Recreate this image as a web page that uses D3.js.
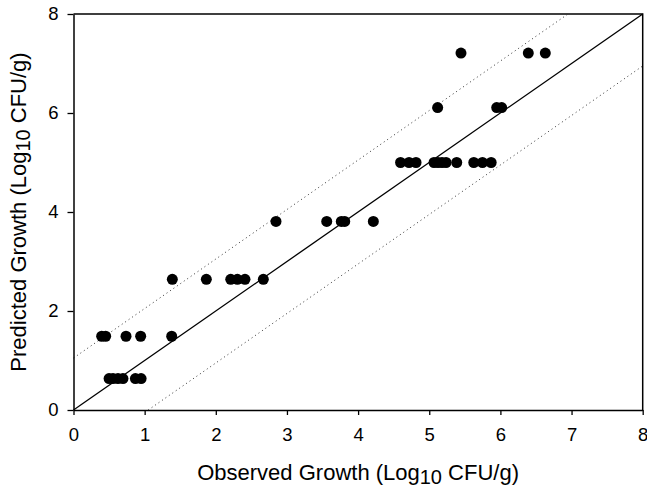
<!DOCTYPE html>
<html>
<head>
<meta charset="utf-8">
<script src="https://cdn.jsdelivr.net/npm/d3@7"></script>
<style>
  html, body { margin: 0; padding: 0; background: #fff; }
  svg { display: block; }
  text { font-family: Arial, "Liberation Sans", sans-serif; fill: #000; }
</style>
</head>
<body>
<svg id="chart" width="647" height="489"></svg>
<script>
// Observed vs predicted growth (Log10 CFU/g)
const observed = [
  0.50, 0.555, 0.625, 0.695, 0.87, 0.95,
  0.396, 0.452, 0.738, 0.944, 1.38,
  1.389, 1.867, 2.21, 2.303, 2.41, 2.668,
  2.846, 3.559, 3.764, 3.812, 4.214,
  4.597, 4.716, 4.814, 5.067, 5.123, 5.179, 5.236, 5.386, 5.626, 5.748, 5.87,
  5.118, 5.948, 6.018,
  5.446, 6.392, 6.631
];
const predicted = [
  0.636, 0.636, 0.636, 0.636, 0.636, 0.636,
  1.49, 1.49, 1.49, 1.49, 1.49,
  2.64, 2.64, 2.64, 2.64, 2.64, 2.64,
  3.81, 3.81, 3.81, 3.81, 3.81,
  5.0, 5.0, 5.0, 5.0, 5.0, 5.0, 5.0, 5.0, 5.0, 5.0, 5.0,
  6.11, 6.11, 6.11,
  7.21, 7.21, 7.21
];
const xTicks = [0, 1, 2, 3, 4, 5, 6, 7, 8];
const yTicks = [0, 2, 4, 6, 8];
const identityLine = [[0, 0], [8, 8]];
const upperBound = [[0, 1.05], [6.95, 8]];
const lowerBound = [[1.05, 0], [8, 6.95]];
const xTitle = ["Observed Growth (Log", "10", " CFU/g)"];
const yTitle = ["Predicted Growth (Log", "10", " CFU/g)"];

const svg = d3.select("#chart");
const W = 647, H = 489;
const m = { left: 73.5, right: 4.3, top: 14, bottom: 79 };
const x = d3.scaleLinear().domain([0, 8]).range([m.left, W - m.right]);
const y = d3.scaleLinear().domain([0, 8]).range([H - m.bottom, m.top]);

const line = d3.line().x(d => x(d[0])).y(d => y(d[1]));

// frame (top and right)
svg.append("path")
  .attr("d", `M${x(0)},${y(8)}H${x(8)}V${y(0)}`)
  .attr("fill", "none").attr("stroke", "#000").attr("stroke-width", 1.5);

// bound lines
[upperBound, lowerBound].forEach(b => {
  svg.append("path").datum(b).attr("d", line)
    .attr("fill", "none").attr("stroke", "#333").attr("stroke-width", 1)
    .attr("stroke-dasharray", "1,3.2");
});
svg.append("path").datum(identityLine).attr("d", line)
  .attr("fill", "none").attr("stroke", "#000").attr("stroke-width", 1.3);

// points
svg.append("g").selectAll("circle")
  .data(observed.map((o, i) => [o, predicted[i]]))
  .join("circle")
  .attr("cx", d => x(d[0])).attr("cy", d => y(d[1]))
  .attr("r", 5.5).attr("fill", "#000");

// axes
const xAxis = svg.append("g").attr("transform", `translate(0,${y(0)})`)
  .call(d3.axisBottom(x).tickValues(xTicks).tickFormat(d3.format("d")).tickSize(5).tickPadding(13).tickSizeOuter(0));
const yAxis = svg.append("g").attr("transform", `translate(${x(0)},0)`)
  .call(d3.axisLeft(y).tickValues(yTicks).tickFormat(d3.format("d")).tickSize(6).tickPadding(9).tickSizeOuter(0));
[xAxis, yAxis].forEach(a => {
  a.select(".domain").attr("stroke", "#000").attr("stroke-width", 1.5);
  a.selectAll(".tick line").attr("stroke", "#000").attr("stroke-width", 1.3);
  a.selectAll("text").attr("font-size", "18.5px").attr("font-family", "Arial, 'Liberation Sans', sans-serif").attr("fill", "#000");
});

function title(g, parts) {
  const t = g.append("text").attr("text-anchor", "middle").attr("font-size", "22px");
  t.append("tspan").text(parts[0]);
  t.append("tspan").attr("dy", 4).attr("font-size", "20px").text(parts[1]);
  t.append("tspan").attr("dy", -4).text(parts[2]);
  return t;
}
title(svg.append("g").attr("transform", `translate(${(x(0) + x(8)) / 2},480)`), xTitle);
title(svg.append("g").attr("transform", `translate(26,${(y(0) + y(8)) / 2}) rotate(-90)`), yTitle);
</script>
</body>
</html>
